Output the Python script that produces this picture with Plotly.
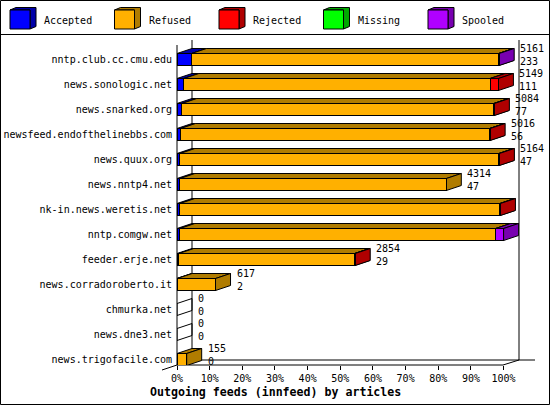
import plotly.graph_objects as go

# innfeed outgoing feeds, article counts per peer
hosts = ["nntp.club.cc.cmu.edu", "news.sonologic.net", "news.snarked.org",
         "newsfeed.endofthelinebbs.com", "news.quux.org", "news.nntp4.net",
         "nk-in.news.weretis.net", "nntp.comgw.net", "feeder.erje.net",
         "news.corradoroberto.it", "chmurka.net", "news.dne3.net",
         "news.trigofacile.com"]
accepted = [233, 111, 77, 56, 47, 47, 46, 46, 29, 2, 0, 0, 0]
refused = [4920, 4905, 4997, 4952, 5109, 4267, 5127, 5058, 2819, 615, 0, 0, 155]
rejected = [0, 133, 10, 8, 8, 0, 8, 0, 6, 0, 0, 0, 0]
missing = [0, 0, 0, 0, 0, 0, 0, 0, 0, 0, 0, 0, 0]
spooled = [8, 0, 0, 0, 0, 0, 0, 128, 0, 0, 0, 0, 0]
x_ticks = [0, 10, 20, 30, 40, 50, 60, 70, 80, 90, 100]
x_labels = [f"{t}%" for t in x_ticks]

series = [
    ("Accepted", accepted, "#0000ff", "#0000a8"),
    ("Refused", refused, "#ffb000", "#b07c00"),
    ("Rejected", rejected, "#ff0000", "#b00000"),
    ("Missing", missing, "#00ff00", "#00a800"),
    ("Spooled", spooled, "#b000ff", "#7800b0"),
]

FONT = "DejaVu Sans Mono"
W, H = 550, 405
L, R, T, B = 177, 519, 40, 365          # plot area in pixels
PX = 3.266                              # pixels per percent
ROW = 25.0                              # pixels per row
Y0 = 59.5                               # pixel centre of first row
DX = 15 / PX                            # depth in x (percent)
DY = 5 / ROW                            # depth in y (rows)
HW = 6 / ROW                            # half bar height (rows)


def pxx(p):
    return (p - L) / (R - L)


def pxy(p):
    return (B - p) / (B - T)


totals = [sum(s[1][i] for s in series) for i in range(len(hosts))]
peak = max(totals)
idx = list(range(len(hosts)))

fig = go.Figure()
shapes = []
line_k = dict(color="black", width=1)

# back wall / floor frame
frame = [
    (pxx(192), pxy(40), pxx(192), pxy(360)),
    (pxx(519), pxy(40), pxx(519), pxy(360)),
    (pxx(192), pxy(360), pxx(535), pxy(360)),
    (pxx(162), pxy(370), pxx(192), pxy(360)),
    (pxx(503), pxy(365), pxx(519), pxy(360)),
    (pxx(177), pxy(45), pxx(177), pxy(365)),
    (pxx(177), pxy(365), pxx(503), pxy(365)),
    (pxx(0), pxy(34.5), pxx(550), pxy(34.5)),
]
for x0, y0, x1, y1 in frame:
    shapes.append(dict(type="line", xref="paper", yref="paper", x0=x0, y0=y0,
                       x1=x1, y1=y1, line=line_k, layer="below"))
shapes.append(dict(type="rect", xref="paper", yref="paper", x0=pxx(0.5), y0=pxy(0.5),
                   x1=pxx(549.5), y1=pxy(404.5), line=line_k, layer="below"))

# 3D top and side faces of every segment
for i in idx:
    yt, yb = i - HW, i + HW
    cum = 0.0
    if totals[i] == 0:
        shapes.append(dict(type="path", xref="x", yref="y", layer="above",
                           path=f"M0,{yt} L{DX},{yt-DY} L{DX},{yb-DY} L0,{yb} Z",
                           line=line_k, fillcolor="rgba(0,0,0,0)"))
        continue
    for name, vals, front, dark in series:
        v = vals[i] / peak * 100
        if v <= 0:
            continue
        x0, x1 = cum, cum + v
        cum = x1
        shapes.append(dict(type="path", xref="x", yref="y", layer="below",
                           path=f"M{x0},{yt} L{x0+DX},{yt-DY} L{x1+DX},{yt-DY} L{x1},{yt} Z",
                           fillcolor=dark, line=line_k))
        shapes.append(dict(type="path", xref="x", yref="y", layer="below",
                           path=f"M{x1},{yt} L{x1+DX},{yt-DY} L{x1+DX},{yb-DY} L{x1},{yb} Z",
                           fillcolor=dark, line=line_k))

# front faces
for name, vals, front, dark in series:
    pct = [v / peak * 100 if v > 0 else None for v in vals]
    fig.add_trace(go.Bar(y=idx, x=pct, orientation="h", name=name, width=2 * HW,
                         marker=dict(color=front, line=line_k),
                         showlegend=False, hoverinfo="skip"))

annotations = []
for i in idx:
    annotations.append(dict(x=totals[i] / peak * 100 + DX + 4 / PX, y=i - 4.5 / ROW,
                            xref="x", yref="y", xanchor="left", yanchor="middle",
                            text=f"{totals[i]}<br>{accepted[i]}", showarrow=False,
                            align="left", font=dict(family=FONT, size=10, color="black")))

# legend with cubes
for k, (name, vals, front, dark) in enumerate(series):
    cx = 10 + 104.5 * k
    fx0, fx1, fy0, fy1 = cx, cx + 20, 10, 29
    bx, by = 6, 2.5
    shapes.append(dict(type="path", xref="paper", yref="paper", layer="above",
                       path=(f"M{pxx(fx0)},{pxy(fy0)} L{pxx(fx0+bx)},{pxy(fy0-by)} "
                             f"L{pxx(fx1+bx)},{pxy(fy0-by)} L{pxx(fx1+bx)},{pxy(fy1-by)} "
                             f"L{pxx(fx1)},{pxy(fy1)} L{pxx(fx1)},{pxy(fy0)} Z"),
                       fillcolor=dark, line=line_k))
    shapes.append(dict(type="rect", xref="paper", yref="paper", layer="above",
                       x0=pxx(fx0), y0=pxy(fy0), x1=pxx(fx1), y1=pxy(fy1),
                       fillcolor=front, line=line_k))
    annotations.append(dict(x=pxx(cx + 32), y=pxy(20), xref="paper", yref="paper",
                            xanchor="left", yanchor="middle", text=name, showarrow=False,
                            font=dict(family=FONT, size=10, color="black")))

annotations.append(dict(x=pxx(275), y=pxy(392), xref="paper", yref="paper",
                        xanchor="center", yanchor="middle", showarrow=False,
                        text="<b>Outgoing feeds (innfeed) by articles</b>",
                        font=dict(family=FONT, size=11.6, color="black")))

fig.update_layout(
    width=W, height=H, barmode="stack",
    margin=dict(l=L, r=W - R, t=T, b=H - B, pad=0, autoexpand=False),
    paper_bgcolor="white", plot_bgcolor="rgba(0,0,0,0)",
    shapes=shapes, annotations=annotations,
    xaxis=dict(range=[0, (R - L) / PX], tickvals=x_ticks, ticktext=x_labels,
               showgrid=False, zeroline=False, showline=False, automargin=False,
               ticks="outside", ticklen=4, tickcolor="black",
               tickfont=dict(family=FONT, size=10, color="black")),
    yaxis=dict(range=[(B - Y0) / ROW, (T - Y0) / ROW], tickvals=idx, ticktext=hosts,
               showgrid=False, zeroline=False, showline=False, ticks="",
               ticklabelstandoff=4, automargin=False,
               tickfont=dict(family=FONT, size=10, color="black")),
)

# drop the default page margin so the figure sits at the window's corner
fig.write_html("out.html", config={"displayModeBar": False},
               post_script="document.body.style.margin='0';")
